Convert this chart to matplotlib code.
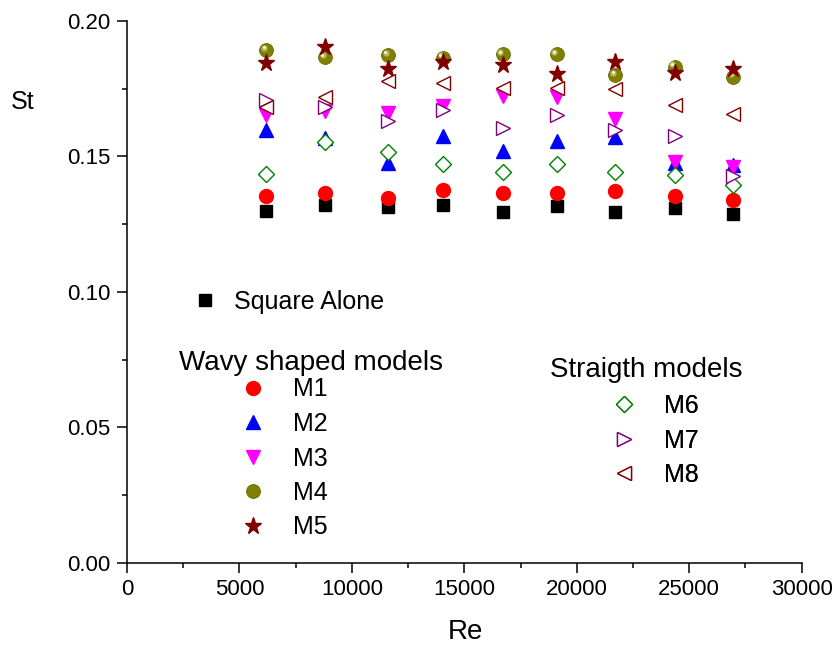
"""Strouhal number vs Reynolds number for square cylinder with wavy / straight models."""

import matplotlib
matplotlib.use("Agg")
import matplotlib.pyplot as plt
import matplotlib.transforms as mtransforms
from matplotlib.ticker import MultipleLocator

plt.rcParams.update({
    "font.family": ["Liberation Sans", "DejaVu Sans"],
    "font.size": 16,
})

# ---------------------------------------------------------------- #
# Data
# ---------------------------------------------------------------- #
re = [6200, 8800, 11600, 14050, 16700, 19100, 21700, 24350, 26950]

square_alone = [0.1300, 0.1321, 0.1315, 0.1320, 0.1295, 0.1317, 0.1296, 0.1311, 0.1288]
m1 = [0.1355, 0.1366, 0.1346, 0.1376, 0.1364, 0.1366, 0.1373, 0.1354, 0.1339]
m2 = [0.1597, 0.1567, 0.1477, 0.1577, 0.1520, 0.1558, 0.1571, 0.1477, 0.1469]
m3 = [0.1653, 0.1669, 0.1662, 0.1686, 0.1723, 0.1719, 0.1637, 0.1481, 0.1460]
m4 = [0.1893, 0.1866, 0.1875, 0.1865, 0.1877, 0.1878, 0.1801, 0.1832, 0.1795]
m5 = [0.1844, 0.1903, 0.1823, 0.1850, 0.1838, 0.1804, 0.1848, 0.1807, 0.1823]
m6 = [0.1435, 0.1555, 0.1518, 0.1472, 0.1444, 0.1472, 0.1444, 0.1432, 0.1395]
m7 = [0.1709, 0.1682, 0.1632, 0.1672, 0.1604, 0.1653, 0.1598, 0.1576, 0.1428]
m8 = [0.1682, 0.1721, 0.1779, 0.1770, 0.1752, 0.1752, 0.1749, 0.1690, 0.1657]

# ---------------------------------------------------------------- #
# Layout helpers (pixel -> figure fraction)
# ---------------------------------------------------------------- #
W, H = 835, 646


def fx(px):
    return px / W


def fy(py):
    return 1 - py / H


fig = plt.figure(figsize=(W / 100, H / 100), dpi=100)
ax = fig.add_axes([fx(127), fy(562.7), (801.7 - 127) / W, (562.7 - 21) / H])

kw = dict(linestyle="none")
h_sq, = ax.plot(re, square_alone, marker="s", ms=8.6, color="black", **kw)
h1, = ax.plot(re, m1, marker="o", ms=10, color="#ff0000", **kw)
h2, = ax.plot(re, m2, marker="^", ms=10.5, color="#0000ff", **kw)
h3, = ax.plot(re, m3, marker="v", ms=10.5, color="#ff00ff", **kw)
h4, = ax.plot(re, m4, marker="o", ms=10, color="#808000",
              markeredgecolor="#6b6b00", markeredgewidth=0.6, **kw)
# shading highlight on the olive balls
hl = mtransforms.offset_copy(ax.transData, fig=fig, x=-1.6, y=1.6, units="points")
ax.plot(re, m4, marker="o", ms=4.5, color="#b8b860", markeredgewidth=0,
        transform=hl, **kw)
hl2 = mtransforms.offset_copy(ax.transData, fig=fig, x=-1.8, y=1.8, units="points")
ax.plot(re, m4, marker="o", ms=2.0, color="white", markeredgewidth=0,
        transform=hl2, **kw)
h5, = ax.plot(re, m5, marker="*", ms=12.5, color="#800000", **kw)
h6, = ax.plot(re, m6, marker="D", ms=8.2, markerfacecolor="white",
              markeredgecolor="#008000", markeredgewidth=1.0, **kw)
h7, = ax.plot(re, m7, marker=">", ms=10.5, markerfacecolor="white",
              markeredgecolor="#800080", markeredgewidth=1.0, **kw)
h8, = ax.plot(re, m8, marker="<", ms=10.5, markerfacecolor="white",
              markeredgecolor="#800000", markeredgewidth=1.0, **kw)

# Axes styling
ax.set_xlim(0, 30000)
ax.set_ylim(0, 0.20)
ax.xaxis.set_major_locator(MultipleLocator(5000))
ax.xaxis.set_minor_locator(MultipleLocator(2500))
ax.yaxis.set_major_locator(MultipleLocator(0.05))
ax.yaxis.set_minor_locator(MultipleLocator(0.025))
ax.yaxis.set_major_formatter(plt.FormatStrFormatter("%.2f"))
for side in ("top", "right"):
    ax.spines[side].set_visible(False)
for side in ("left", "bottom"):
    ax.spines[side].set_linewidth(1.1)
ax.tick_params(which="major", direction="out", length=7, width=1.1,
               labelsize=16, pad=5)
ax.tick_params(which="minor", direction="out", length=3.5, width=1.1)

ax.set_xlabel("Re", fontsize=20)
ax.xaxis.set_label_coords(0.501, -0.128)
ax.xaxis.label.set_va("center")
ax.set_ylabel("St", fontsize=18, rotation=0, ha="center", va="center")
ax.yaxis.set_label_coords(-0.154, 0.8505)

# Legends
common = dict(frameon=False, fontsize=18, borderpad=0, borderaxespad=0,
              bbox_transform=fig.transFigure, numpoints=1, loc="center left")

leg0 = ax.legend([h_sq], ["Square Alone"], bbox_to_anchor=(fx(192.5), fy(301.7)),
                 handlelength=1.0, handletextpad=0.66, **common)
ax.add_artist(leg0)

leg1 = ax.legend([h1, h2, h3, h4, h5], ["M1", "M2", "M3", "M4", "M5"],
                 bbox_to_anchor=(fx(235.2), fy(458.5)),
                 handlelength=1.4, handletextpad=0.9, labelspacing=0.42, **common)
ax.add_artist(leg1)

leg2 = ax.legend([h6, h7, h8], ["M6", "M7", "M8"],
                 bbox_to_anchor=(fx(606.8), fy(440.5)),
                 handlelength=1.4, handletextpad=0.9, labelspacing=0.42, **common)
ax.add_artist(leg2)

fig.text(fx(179.3), fy(363.3), "Wavy shaped models", fontsize=20,
         ha="left", va="center")
fig.text(fx(550), fy(370), "Straigth models", fontsize=20,
         ha="left", va="center")

fig.savefig("out.png", dpi=100)
plt.close(fig)
